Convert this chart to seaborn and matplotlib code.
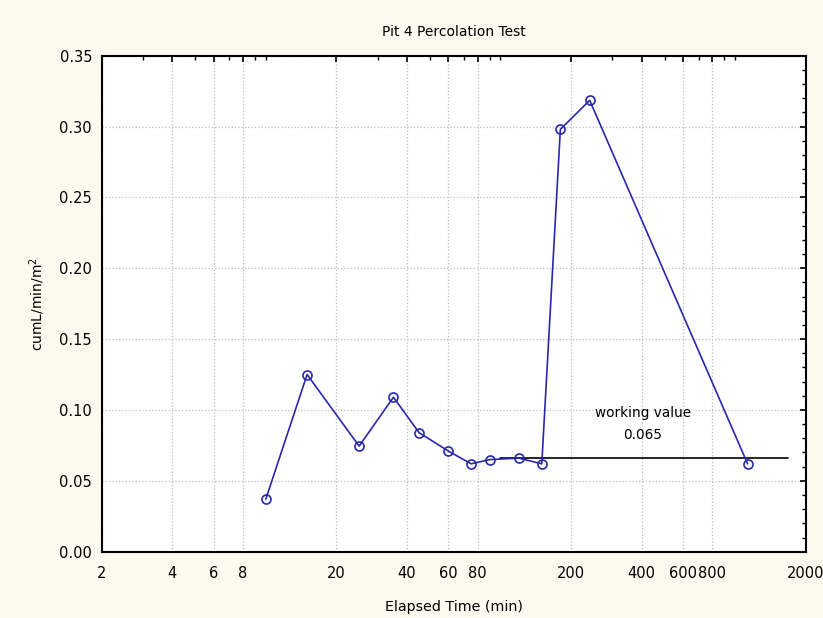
import numpy as np
import pandas as pd
import matplotlib
matplotlib.use("Agg")
import matplotlib.pyplot as plt
import matplotlib.ticker as mticker
import seaborn as sns

# values
elapsed_min = [10, 15, 25, 35, 45, 60, 75, 90, 120, 150, 180, 240, 1130]
rate = [0.037, 0.125, 0.0745, 0.109, 0.084, 0.071, 0.062, 0.065, 0.066, 0.062, 0.298, 0.3185, 0.062]
working_x = [100, 1680]
working_y = [0.066, 0.066]
x_ticks = [2, 4, 6, 8, 20, 40, 60, 80, 200, 400, 600, 800, 2000]
y_ticks = [0.00, 0.05, 0.10, 0.15, 0.20, 0.25, 0.30, 0.35]

df = pd.DataFrame({"Elapsed Time (min)": elapsed_min, "rate": rate})

sns.set_style("white")
plt.rcParams["font.family"] = ["DejaVu Sans"]
plt.rcParams["text.color"] = "black"
plt.rcParams["axes.labelcolor"] = "black"
plt.rcParams["xtick.color"] = "black"
plt.rcParams["ytick.color"] = "black"

bg = "#fcf9ef"
fig = plt.figure(figsize=(8.23, 6.18), dpi=100, facecolor=bg)
ax = fig.add_axes([0.1236, 0.1073, 0.8555, 0.8026])
ax.set_facecolor("white")

sns.lineplot(data=df, x="Elapsed Time (min)", y="rate", sort=False, ax=ax,
             color="#2828aa", linewidth=1.2, marker="o", markersize=6.5,
             markerfacecolor="none", markeredgecolor="#2828aa", markeredgewidth=1.2,
             zorder=4)
ax.plot(working_x, working_y, color="black", linewidth=1.2, zorder=3)
ax.text(405, 0.0979, "working value", ha="center", va="center", fontsize=9.8)
ax.text(405, 0.0823, "0.065", ha="center", va="center", fontsize=9.8)

ax.set_xscale("log")
ax.set_xlim(2, 2000)
ax.set_ylim(0, 0.35)
ax.xaxis.set_major_locator(mticker.FixedLocator(x_ticks))
ax.xaxis.set_major_formatter(mticker.FixedFormatter([str(t) for t in x_ticks]))
ax.xaxis.set_minor_locator(mticker.LogLocator(base=10, subs=np.arange(1, 10)))
ax.xaxis.set_minor_formatter(mticker.NullFormatter())
ax.set_yticks(y_ticks)
ax.set_yticklabels([f"{t:.2f}" for t in y_ticks])
ax.yaxis.set_minor_locator(mticker.MultipleLocator(0.01))

ax.grid(True, which="major", linestyle=":", color="#bdbdbd", linewidth=0.9)
ax.tick_params(which="both", direction="in", top=True, right=True, labelsize=10.5)
ax.tick_params(axis="x", pad=10)
ax.tick_params(axis="y", pad=7)
ax.tick_params(which="major", length=4, width=1.2)
ax.tick_params(which="minor", length=3, width=1.0)
for s in ax.spines.values():
    s.set_color("black")
    s.set_linewidth(1.5)

ax.set_xlabel("Elapsed Time (min)", fontsize=10.3, labelpad=14)
ax.set_ylabel("cumL/min/m$^2$", fontsize=10, labelpad=9)
ax.set_title("Pit 4 Percolation Test", fontsize=10, pad=14)

fig.savefig("out.png", dpi=100, facecolor=bg)
